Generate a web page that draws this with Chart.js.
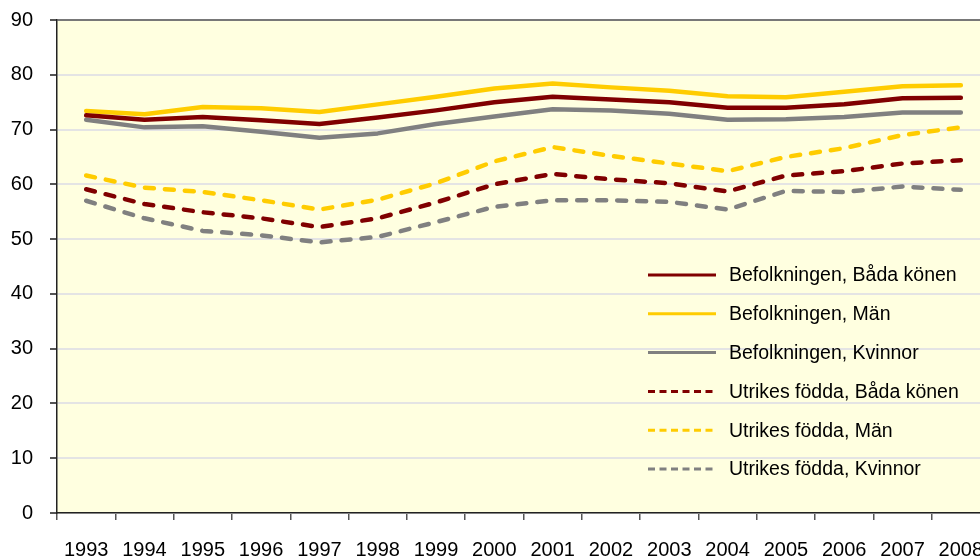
<!DOCTYPE html>
<html>
<head>
<meta charset="utf-8">
<script src="https://cdn.jsdelivr.net/npm/chart.js@4/dist/chart.umd.min.js"></script>
<style>
  html, body { margin: 0; padding: 0; background: #fff; overflow: hidden; }
  #wrap { width: 980px; height: 558px; overflow: hidden; }
</style>
</head>
<body>
<div id="wrap"><canvas id="chart" width="1000" height="558"></canvas></div>
<script>
// ===== Data =====
const years = ["1993","1994","1995","1996","1997","1998","1999","2000","2001","2002","2003","2004","2005","2006","2007","2008"];
const yTicks = [0, 10, 20, 30, 40, 50, 60, 70, 80, 90];

const befBada    = [72.6, 71.8, 72.3, 71.7, 71.0, 72.2, 73.5, 75.0, 76.0, 75.5, 75.0, 74.0, 74.0, 74.6, 75.7, 75.8];
const befMan     = [73.4, 72.8, 74.1, 73.9, 73.2, 74.6, 76.0, 77.5, 78.4, 77.7, 77.1, 76.1, 75.9, 76.9, 77.9, 78.1];
const befKvinnor = [71.8, 70.4, 70.6, 69.6, 68.5, 69.3, 71.0, 72.4, 73.7, 73.5, 72.9, 71.8, 71.9, 72.3, 73.1, 73.1];
const utrBada    = [59.1, 56.4, 54.9, 53.8, 52.2, 53.8, 56.7, 60.0, 61.9, 60.9, 60.2, 58.7, 61.6, 62.4, 63.8, 64.4];
const utrMan     = [61.6, 59.4, 58.6, 57.1, 55.4, 57.2, 60.2, 64.2, 66.8, 65.2, 63.8, 62.4, 65.0, 66.6, 69.0, 70.4];
const utrKvinnor = [57.0, 53.8, 51.5, 50.7, 49.4, 50.4, 53.1, 55.9, 57.1, 57.1, 56.8, 55.4, 58.8, 58.6, 59.6, 59.0];

const labels = [
  "Befolkningen, Båda könen",
  "Befolkningen, Män",
  "Befolkningen, Kvinnor",
  "Utrikes födda, Båda könen",
  "Utrikes födda, Män",
  "Utrikes födda, Kvinnor"
];

// ===== Styles =====
const RED = "#800000", GOLD = "#FFCC00", GRAY = "#808080";
const FONT = "'Liberation Sans', Arial, sans-serif";

function solid(label, data, color) {
  return { label, data, borderColor: color, backgroundColor: color, borderWidth: 4.5,
           pointRadius: 0, tension: 0, borderCapStyle: "round", borderJoinStyle: "round", fill: false };
}
function dashed(label, data, color) {
  return { ...solid(label, data, color), borderDash: [9, 11] };
}

// plot background, top border, legend inside plot
const plotDeco = {
  id: "plotDeco",
  beforeDraw(chart) {
    const { ctx, chartArea: a } = chart;
    ctx.save();
    ctx.fillStyle = "#FFFFE0";
    ctx.fillRect(a.left, a.top, a.right - a.left, a.bottom - a.top);
    ctx.restore();
  },
  beforeDatasetsDraw(chart) {
    const { ctx, chartArea: a } = chart;
    ctx.save();
    ctx.strokeStyle = "#555";
    ctx.lineWidth = 1.5;
    ctx.beginPath();
    ctx.moveTo(a.left, a.top);
    ctx.lineTo(a.right, a.top);
    ctx.stroke();
    ctx.restore();
  },
  afterDraw(chart) {
    const { ctx } = chart;
    const x0 = 648, x1 = 716, tx = 729, y0 = 275, dy = 38.8;
    ctx.save();
    ctx.font = "19.5px " + FONT;
    ctx.textBaseline = "middle";
    ctx.fillStyle = "#000";
    chart.data.datasets.forEach((ds, i) => {
      const y = y0 + i * dy;
      ctx.strokeStyle = ds.borderColor;
      ctx.lineWidth = 3;
      ctx.lineCap = "butt";
      ctx.setLineDash(ds.borderDash ? [7, 4.5] : []);
      ctx.beginPath();
      ctx.moveTo(x0, y);
      ctx.lineTo(x1, y);
      ctx.stroke();
      ctx.fillText(ds.label, tx, y + 1);
    });
    ctx.restore();
  }
};

new Chart(document.getElementById("chart"), {
  type: "line",
  data: {
    labels: years,
    datasets: [
      solid(labels[0], befBada, RED),
      solid(labels[1], befMan, GOLD),
      solid(labels[2], befKvinnor, GRAY),
      dashed(labels[3], utrBada, RED),
      dashed(labels[4], utrMan, GOLD),
      dashed(labels[5], utrKvinnor, GRAY)
    ]
  },
  options: {
    responsive: false,
    animation: false,
    layout: { padding: { top: 20, right: 10, left: 0, bottom: 0 } },
    plugins: { legend: { display: false }, tooltip: { enabled: false } },
    scales: {
      x: {
        offset: true,
        grid: { offset: true, drawOnChartArea: false, tickLength: 7, tickColor: "#555", lineWidth: 1.5 },
        border: { color: "#222", width: 1.5 },
        ticks: { color: "#000", font: { size: 20, family: FONT }, padding: 18, maxRotation: 0, autoSkip: false },
        afterFit(scale) {
          scale.height = 45;
          scale.paddingLeft = 0; scale.paddingRight = 0;
        }
      },
      y: {
        min: 0,
        max: 90,
        afterBuildTicks(scale) { scale.ticks = yTicks.map(v => ({ value: v })); },
        grid: { color: "#E4E4E4", lineWidth: 2, tickLength: 7, tickColor: "#555" },
        border: { color: "#222", width: 1.5 },
        ticks: { color: "#000", font: { size: 20, family: FONT }, padding: 17 },
        afterFit(scale) {
          scale.width = 57;
          scale.paddingTop = 0; scale.paddingBottom = 0;
        }
      }
    }
  },
  plugins: [plotDeco]
});
</script>
</body>
</html>
